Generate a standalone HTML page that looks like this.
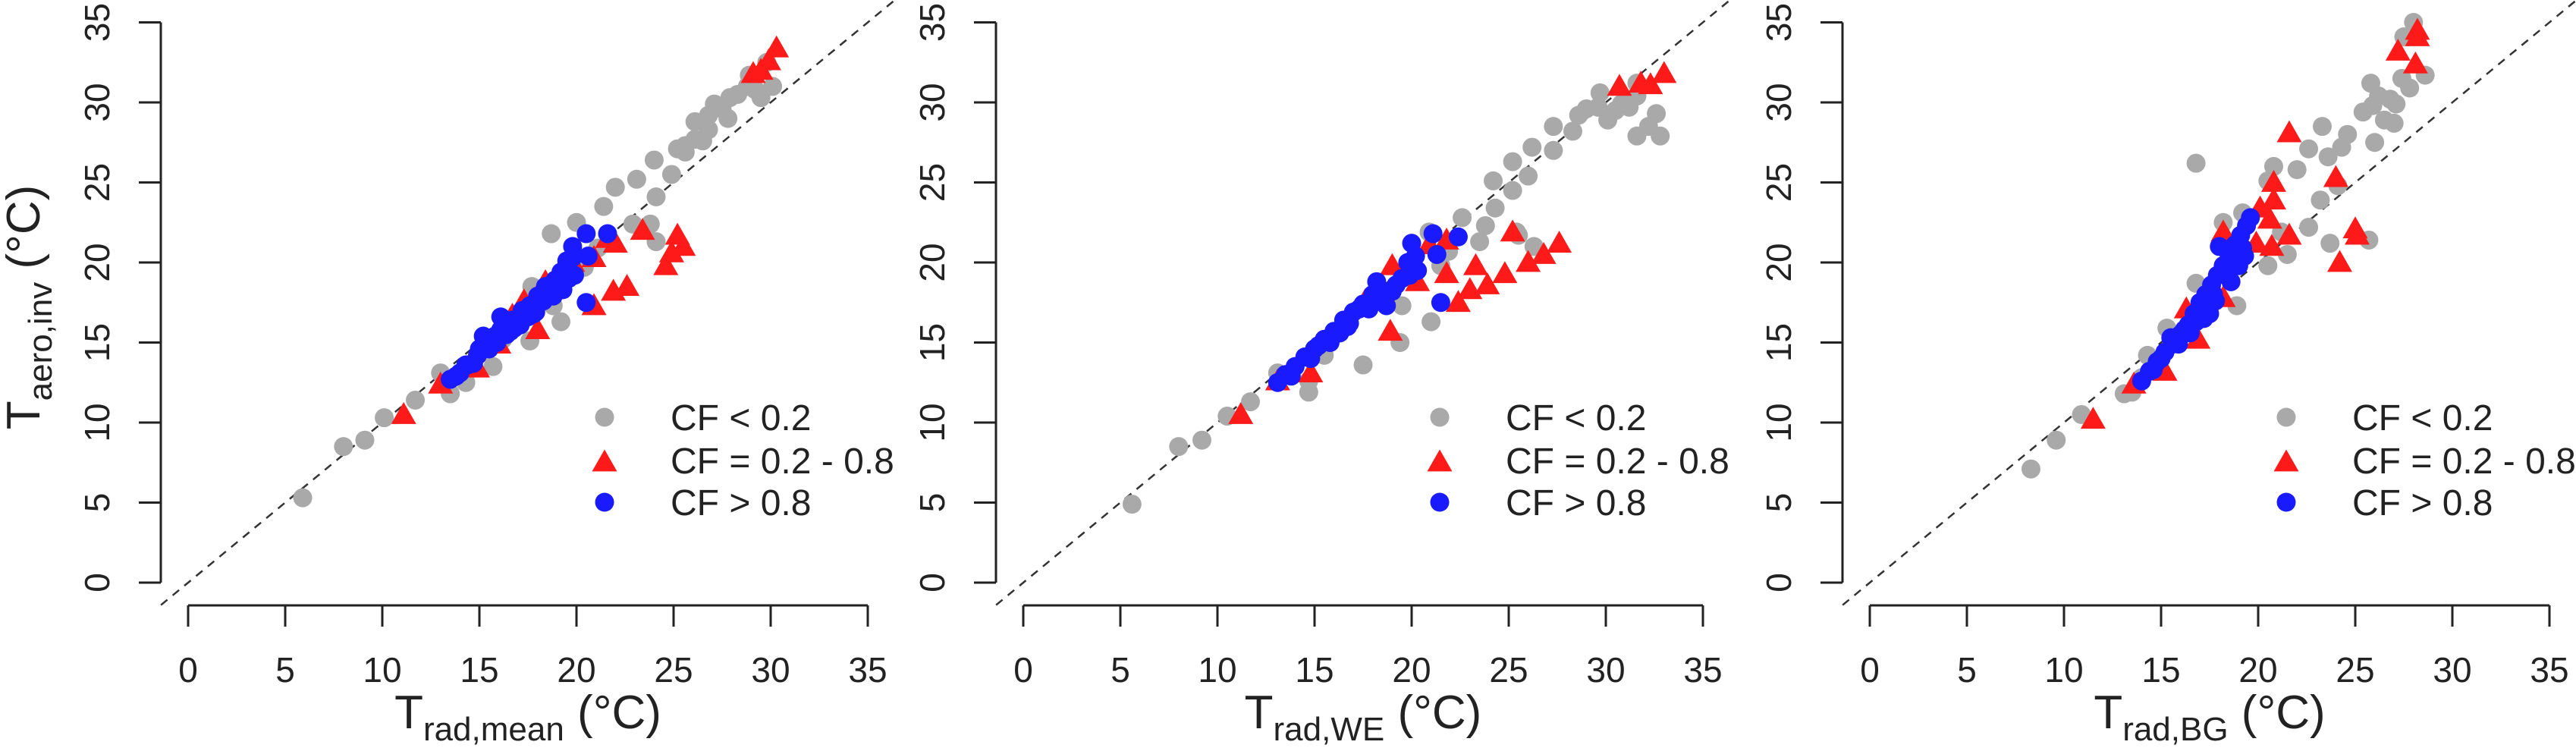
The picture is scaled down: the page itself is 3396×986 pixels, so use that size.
<!DOCTYPE html>
<html>
<head>
<meta charset="utf-8">
<style>
html,body{margin:0;padding:0;background:#fff;}
svg{display:block;font-family:"Liberation Sans",Arial,sans-serif;}
</style>
</head>
<body>
<svg id="chart" width="3396" height="986" viewBox="0 0 3396 986" xmlns="http://www.w3.org/2000/svg">
<rect x="0" y="0" width="3396" height="986" fill="#fff"/>
</svg>
<script>
// ---------- data ----------
const tickValues = [0, 5, 10, 15, 20, 25, 30, 35];
const panelNames = ["mean", "WE", "BG"];
const legendLabels = ["CF < 0.2", "CF = 0.2 - 0.8", "CF > 0.8"];

// Panel 1 (T_rad,mean)
const p1GrayX = [5.9,8.0,9.1,10.1,11.7,13.0,13.5,14.3,15.7,17.6,19.2,18.8,17.7,18.7,20.0,21.1,21.4,22.0,23.1,22.9,23.8,24.1,24.0,24.9,24.1,25.2,26.1,26.1,26.8,27.1,27.9,28.8,29.2,30.1,29.8,28.9,20.4,26.8,27.5,28.3,25.6,16.2,15.0,14.0,25.6,26.5,27.8,29.5];
const p1GrayY = [5.3,8.5,8.9,10.3,11.4,13.1,11.8,12.5,13.5,15.1,16.3,17.3,18.5,21.8,22.5,20.9,23.5,24.7,25.2,22.4,22.4,24.1,26.4,25.5,21.3,27.1,27.7,28.8,29.2,29.9,30.3,31.0,30.8,31.0,32.5,31.7,19.7,28.3,29.6,30.5,27.3,15.2,14.3,13.0,26.9,27.6,29.0,30.3];
const p1RedX = [11.1,13.0,14.9,18.0,16.7,20.9,21.9,22.6,23.4,21.6,22.0,20.9,19.8,19.1,18.4,24.6,24.9,25.2,25.5,29.1,29.5,30.3,29.9,17.3,16.0];
const p1RedY = [10.5,12.4,13.4,15.8,16.7,17.3,18.2,18.5,22.0,21.5,21.2,20.3,20.0,19.2,18.8,19.8,20.6,21.7,21.0,31.8,32.0,33.4,32.6,17.6,14.9];
const p1BlueX = [13.5,14.0,14.4,14.9,15.3,15.8,16.1,16.4,16.7,17.2,17.6,18.0,18.4,18.9,19.2,19.5,19.8,19.8,19.9,20.5,21.6,20.6,20.5,16.1,15.2,16.4,17.9,18.8,14.3,15.5,17.1,19.0,19.5,13.8,14.7,15.0,15.9,16.8,17.5,18.3,19.3,16.6,17.8,18.6,19.6,15.6];
const p1BlueY = [12.7,13.1,13.6,14.2,14.9,15.4,15.8,16.0,16.4,17.0,17.3,17.9,18.5,18.9,19.4,19.8,20.3,21.0,19.2,21.8,21.8,20.4,17.5,16.6,15.4,15.5,16.9,17.9,13.6,14.6,16.1,18.5,20.1,12.9,13.7,14.6,15.0,15.9,16.6,17.6,18.3,15.7,16.8,18.1,19.0,15.1];

// Panel 2 (T_rad,WE)
const p2GrayX = [5.6,8.0,9.2,10.5,11.7,13.1,14.7,14.7,17.5,19.4,19.5,21.0,15.5,21.9,22.6,23.5,23.8,24.3,25.2,24.2,25.2,26.0,26.2,27.3,27.3,28.3,28.6,29.7,29.6,30.1,30.8,31.6,31.6,32.6,32.2,31.6,32.8,25.5,26.3,25.4,20.9,21.5,30.5,31.0,29.0,31.2];
const p2GrayY = [4.9,8.5,8.9,10.4,11.3,13.1,11.9,12.6,13.6,15.0,17.3,16.3,14.2,20.7,22.8,21.3,22.3,23.4,24.5,25.1,26.3,25.4,27.2,27.0,28.5,28.2,29.2,30.6,29.7,28.9,29.9,30.4,31.2,29.3,28.5,27.9,27.9,21.7,21.0,21.9,21.9,19.8,29.5,30.0,29.6,29.7];
const p2RedX = [11.2,13.1,14.8,18.9,19.0,17.6,20.3,20.9,21.8,21.8,22.4,23.0,23.3,23.9,24.8,25.2,26.0,26.8,27.6,30.7,31.8,33.0,32.3];
const p2RedY = [10.5,12.6,13.1,15.7,19.8,17.6,18.8,21.1,21.4,19.3,17.5,18.3,19.8,18.6,19.3,21.9,20.0,20.5,21.2,31.0,31.2,31.8,31.1];
const p2BlueX = [13.1,13.5,14.0,14.5,15.0,15.5,16.0,16.5,17.0,17.5,18.0,18.2,18.7,19.2,19.5,20.0,20.3,21.1,22.4,20.0,21.3,21.5,16.8,17.8,18.5,19.8,15.2,16.3,13.8,14.8,15.8,16.7,17.3,18.4,19.0,19.9,20.2];
const p2BlueY = [12.5,13.0,13.5,14.1,14.6,15.2,15.7,16.4,16.9,17.4,18.0,18.8,17.3,18.6,19.0,19.8,19.5,21.8,21.6,21.2,20.5,17.5,16.2,17.1,18.2,20.0,14.8,15.6,12.9,14.0,15.0,16.0,17.1,17.9,18.2,19.2,20.4];

// Panel 3 (T_rad,BG)
const p3GrayX = [8.3,9.6,10.9,13.1,13.5,14.3,15.3,16.8,16.8,18.2,19.2,18.9,20.5,21.5,20.5,20.8,22.0,22.6,23.3,23.2,23.6,23.7,24.1,24.3,24.6,25.4,25.8,26.0,26.2,26.5,27.0,27.1,27.5,28.0,27.8,28.6,25.7,22.6,21.2,14.0,15.8,17.4,25.9,26.8,27.4];
const p3GrayY = [7.1,8.9,10.5,11.8,11.9,14.2,15.9,18.7,26.2,22.5,23.1,17.3,19.8,20.5,25.1,26.0,25.8,27.1,28.5,23.9,26.6,21.2,24.8,27.2,28.0,29.4,31.2,27.5,30.4,28.9,28.7,29.9,34.1,35.0,30.9,31.7,21.4,22.2,21.9,12.8,15.0,17.0,29.8,30.2,31.5];
const p3RedX = [11.5,13.6,15.2,16.3,18.2,18.5,20.1,20.8,20.8,20.6,19.9,20.7,21.6,21.6,24.0,24.2,25.0,25.1,27.2,28.1,28.2,28.2,18.2,16.9];
const p3RedY = [10.2,12.4,13.2,17.1,21.9,20.5,23.4,23.9,25.0,22.7,21.2,21.0,28.1,21.7,25.3,20.0,22.1,21.7,33.2,32.4,34.5,34.1,17.8,15.2];
const p3BlueX = [14.0,14.4,14.8,15.2,15.6,16.0,16.4,16.7,17.0,17.3,17.6,17.9,18.2,18.5,18.8,19.1,19.4,19.6,19.0,18.6,17.5,16.8,15.5,19.3,18.0,17.8,18.4,14.6,15.0,15.9,16.2,16.5,17.2,17.7,18.7,19.2];
const p3BlueY = [12.6,13.2,13.8,14.4,14.9,15.5,16.1,16.8,17.5,18.0,18.6,19.2,19.8,20.5,21.1,21.7,22.3,22.8,19.8,18.8,16.8,16.3,15.3,20.4,21.0,17.6,19.4,13.3,14.0,14.9,15.8,15.6,16.5,18.0,20.0,20.9];

const panelsGrayX = [p1GrayX, p2GrayX, p3GrayX];
const panelsGrayY = [p1GrayY, p2GrayY, p3GrayY];
const panelsRedX = [p1RedX, p2RedX, p3RedX];
const panelsRedY = [p1RedY, p2RedY, p3RedY];
const panelsBlueX = [p1BlueX, p2BlueX, p3BlueX];
const panelsBlueY = [p1BlueY, p2BlueY, p3BlueY];

// ---------- drawing ----------
const NS = "http://www.w3.org/2000/svg";
const svg = document.getElementById("chart");
const origins = [248, 1349, 2465];
const unitX = 25.6;
const unitY = 21.1;
const y0px = 768;
const GRAY = "#a9a9a9", RED = "#ff1a1a", BLUE = "#1a1aff";

function mk(tag, attrs, parent) {
  const e = document.createElementNS(NS, tag);
  for (const k in attrs) e.setAttribute(k, attrs[k]);
  (parent || svg).appendChild(e);
  return e;
}
function yS(v) { return y0px - v * unitY; }

function circle(g, cx, cy, fill, name) {
  const c = mk("circle", {cx: cx, cy: cy, r: 12.5, fill: fill}, g);
  
  
  return c;
}
function tri(g, cx, cy, name) {
  const s = 16.5;
  const p = mk("polygon", {points: `${cx},${cy - s} ${cx - s * 1.0},${cy + s * 0.75} ${cx + s * 1.0},${cy + s * 0.75}`, fill: RED}, g);
  
  
  return p;
}

for (let p = 0; p < 3; p++) {
  const ox = origins[p];
  const xS = v => ox + v * unitX;
  const g = mk("g", {});
  
  

  const axX = ox - 36;
  const ya = mk("g", {}, g);
  
  
  mk("line", {x1: axX, y1: yS(0), x2: axX, y2: yS(35), stroke: "#222", "stroke-width": 3}, ya);
  tickValues.forEach(v => {
    mk("line", {x1: axX - 29, y1: yS(v), x2: axX, y2: yS(v), stroke: "#222", "stroke-width": 3}, ya);
    const t = mk("text", {x: 0, y: 0, "font-size": 46, fill: "#222", "text-anchor": "middle",
      transform: `translate(${ox - 104},${yS(v)}) rotate(-90)`}, ya);
    t.textContent = v;
    
    
  });
  const xa = mk("g", {}, g);
  
  
  mk("line", {x1: xS(0), y1: 798, x2: xS(35), y2: 798, stroke: "#222", "stroke-width": 3}, xa);
  tickValues.forEach(v => {
    mk("line", {x1: xS(v), y1: 798, x2: xS(v), y2: 826, stroke: "#222", "stroke-width": 3}, xa);
    const t = mk("text", {x: xS(v), y: 899, "font-size": 46, fill: "#222", "text-anchor": "middle"}, xa);
    t.textContent = v;
    
    
  });
  const xt = mk("text", {x: xS(17.5), y: 960, "font-size": 62, fill: "#222", "text-anchor": "middle"}, g);
  
  
  const a1 = mk("tspan", {}, xt); a1.textContent = "T";
  const a2 = mk("tspan", {"font-size": 44, dy: 16}, xt); a2.textContent = "rad," + panelNames[p];
  const a3 = mk("tspan", {dy: -16}, xt); a3.textContent = " (°C)";

  const dl = mk("line", {x1: xS(-1.4), y1: yS(-1.4), x2: xS(36.4), y2: yS(36.4), stroke: "#333", "stroke-width": 2.5, "stroke-dasharray": "11 9"}, g);
  
  

  const gg = mk("g", {}, g);
  
  
  panelsGrayX[p].forEach((v, i) => circle(gg, xS(v), yS(panelsGrayY[p][i]), GRAY, 'point-cf-low'));
  const rg = mk("g", {}, g);
  
  
  panelsRedX[p].forEach((v, i) => tri(rg, xS(v), yS(panelsRedY[p][i]), 'point-cf-mid'));
  const bg = mk("g", {}, g);
  
  
  panelsBlueX[p].forEach((v, i) => circle(bg, xS(v), yS(panelsBlueY[p][i]), BLUE, 'point-cf-high'));

  const lg = mk("g", {}, g);
  
  
  const rows = [550, 607, 662];
  const mx = ox + 549, tx = ox + 636;
  circle(lg, mx, rows[0], GRAY, 'legend-marker-cf-low');
  tri(lg, mx, rows[1] + 2, 'legend-marker-cf-mid');
  circle(lg, mx, rows[2], BLUE, 'legend-marker-cf-high');
  legendLabels.forEach((s, i) => {
    const t = mk("text", {x: tx, y: rows[i] + 17, "font-size": 48, fill: "#222"}, lg);
    t.textContent = s;
    
    
  });
}

const yt = mk("text", {x: 0, y: 0, "font-size": 62, fill: "#222", "text-anchor": "middle", transform: "translate(52,405) rotate(-90)"});


const b1 = mk("tspan", {}, yt); b1.textContent = "T";
const b2 = mk("tspan", {"font-size": 44, dy: 16}, yt); b2.textContent = "aero,inv";
const b3 = mk("tspan", {dy: -16}, yt); b3.textContent = " (°C)";
</script>
</body>
</html>
